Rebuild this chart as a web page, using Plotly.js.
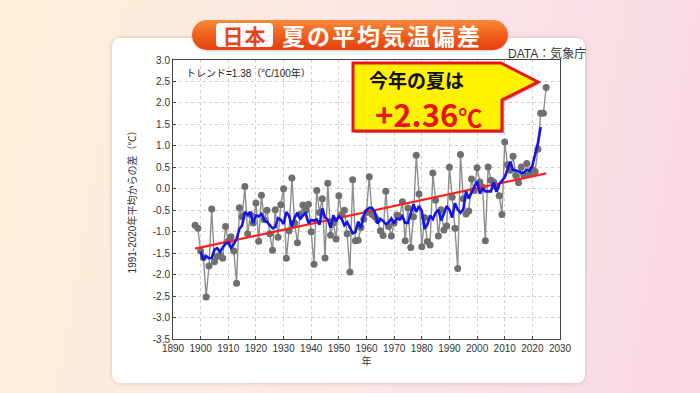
<!DOCTYPE html>
<html>
<head>
<meta charset="utf-8">
<script src="https://cdn.plot.ly/plotly-3.0.1.min.js"></script>
<style>
  html, body { margin:0; padding:0; }
  body { width:700px; height:393px; overflow:hidden; position:relative;
    background: linear-gradient(100deg, #fcefd6 0%, #fde8e4 40%, #fbe0e6 70%, #f9d6e0 100%);
    font-family: "Noto Sans CJK JP", "Liberation Sans", sans-serif; }
  #panel { position:absolute; left:112px; top:38px; width:473px; height:345px; background:#fff;
    border-radius:8px; box-shadow:0 0 4px rgba(0,0,0,0.18); }
  #chart { position:absolute; left:0; top:0; width:700px; height:393px; }
  #banner { position:absolute; left:192px; top:20px; width:316px; height:30px; border-radius:15px;
    background: linear-gradient(180deg, #f98a3a 0%, #f0601c 50%, #e6400e 100%);
    box-shadow: 0 1px 2px rgba(0,0,0,0.2); }
  #nihon { position:absolute; left:24px; top:3px; width:57px; height:24px; background:#fff; border-radius:4px;
    color:#e8431a; font-weight:bold; font-size:21px; line-height:24px; text-align:center; letter-spacing:1px; }
  #btitle { position:absolute; left:90px; top:0px; height:30px; color:#fff; font-weight:bold; font-size:23px;
    line-height:30px; letter-spacing:2px; white-space:nowrap; }
  #data { position:absolute; left:508px; top:44px; font-size:12px; color:#333; white-space:nowrap;
    font-family:"Liberation Sans","Noto Sans CJK JP",sans-serif; }
</style>
</head>
<body>
<div id="panel"></div>
<div id="chart"></div>
<div id="banner"><div id="nihon">日本</div><div id="btitle">夏の平均気温偏差</div></div>
<div id="data">DATA：気象庁</div>
<script>
// ---- data ----
const startYear = 1898;
const anomaly = [
  -0.85, -0.92,
  -1.45, -1.60, -2.52, -1.80, -0.47, -1.70, -1.58, -1.55, -1.62, -0.88,
  -1.22, -1.12, -1.45, -2.20, -0.44, -0.65, 0.05, -1.05, -0.60, -0.80,
  -0.33, -1.22, -0.15, -0.72, -0.50, -1.05, -1.43, -0.49, -1.13, -0.37,
  0.00, -1.62, -0.98, 0.25, -0.80, -1.26, -0.60, -0.38, -0.50, -0.36,
  -1.00, -1.76, -0.04, -0.55, -0.23, -1.61, 0.13, -1.08, -0.80, -1.17,
  -0.16, -0.60, -0.50, -1.05, -1.94, 0.21, -1.21, -1.20, -0.90, -0.71,
  -0.55, 0.28, -0.60, -0.65, -0.73, -0.98, -1.09, -0.06, -0.88, -1.10,
  -0.80, -0.61, -0.65, -0.30, -1.21, -0.45, -1.37, -0.65, 0.78, -0.12,
  -1.35, -0.67, -1.23, -1.31, 0.37, -0.27, -1.10, -0.49, -0.96, -0.87,
  0.50, -0.20, -0.92, -1.86, 0.80, -0.23, -0.59, -0.52, 0.23, -0.04,
  0.49, 0.16, 0.04, -1.21, 0.51, 0.20, 0.16, 0.04, -0.16, -0.60,
  1.09, 0.56, 0.43, 0.76, 0.31, 0.14, 0.51, 0.31, 0.59, 0.34,
  0.45, 0.40, 0.92, 1.76, 1.76, 2.36
];
const trendPer100 = 1.38;
const xTicks = [1890,1900,1910,1920,1930,1940,1950,1960,1970,1980,1990,2000,2010,2020,2030];
const yTicks = [3.0,2.5,2.0,1.5,1.0,0.5,0.0,-0.5,-1.0,-1.5,-2.0,-2.5,-3.0,-3.5];
const trendLabel = "トレンド=1.38（℃/100年）";
const calloutLine1 = "今年の夏は";
const calloutValue = "+2.36";

// ---- derived ----
const years = anomaly.map((_, i) => startYear + i);
const runYears = [], runMean = [];
for (let i = 2; i < anomaly.length - 2; i++) {
  let s = 0; for (let k = -2; k <= 2; k++) s += anomaly[i + k];
  runYears.push(years[i]); runMean.push(s / 5);
}
const meanX = years.reduce((a, b) => a + b, 0) / years.length;
const meanY = anomaly.reduce((a, b) => a + b, 0) / anomaly.length;
const slope = trendPer100 / 100;
const trendX = [years[0], years[years.length - 1]];
const trendY = trendX.map(x => meanY + slope * (x - meanX));

// plot area in pixels
const L = 173, R = 560, T = 60, B = 339;
const px = x => (x - L) / (R - L);
const py = y => (B - y) / (B - T);

const baseFont = "Liberation Sans, Arial, Noto Sans CJK JP, sans-serif";

const traces = [
  { x: years, y: anomaly, type: 'scatter', mode: 'lines+markers',
    line: { color: '#8e8e8e', width: 1.4 },
    marker: { color: '#6f6f6f', size: 7 }, hoverinfo: 'skip' },
  { x: trendX, y: trendY, type: 'scatter', mode: 'lines',
    line: { color: '#ff2020', width: 2.2 }, hoverinfo: 'skip' },
  { x: runYears, y: runMean, type: 'scatter', mode: 'lines',
    line: { color: '#1414e6', width: 2.6 }, hoverinfo: 'skip' }
];

function calloutPath(dx, dy) {
  const P = (x, y) => px(x + dx) + ' ' + py(y + dy);
  return 'M ' + P(353, 63) + ' L ' + P(501, 63) + ' L ' + P(538, 82) + ' L ' + P(502, 100) +
         ' L ' + P(502, 131) + ' L ' + P(353, 131) + ' Z';
}

const layout = {
  width: 700, height: 393,
  margin: { l: L, r: 700 - R, t: T, b: 393 - B, pad: 0 },
  paper_bgcolor: 'rgba(0,0,0,0)', plot_bgcolor: 'rgba(0,0,0,0)',
  showlegend: false,
  font: { family: baseFont, size: 10, color: '#333' },
  xaxis: {
    range: [1890, 2030], tickvals: xTicks, ticktext: xTicks.map(String),
    showgrid: true, gridcolor: '#d0d0d0', griddash: 'dot', gridwidth: 1,
    zeroline: false, showline: true, mirror: true, linecolor: '#444', linewidth: 1,
    ticks: 'inside', ticklen: 3, tickcolor: '#444',
    tickfont: { size: 10, color: '#333', family: baseFont },
    title: { text: '年', font: { size: 10, color: '#333', family: baseFont }, standoff: 4 }
  },
  yaxis: {
    range: [-3.5, 3.0], tickvals: yTicks, ticktext: yTicks.map(v => v.toFixed(1)),
    showgrid: true, gridcolor: '#d0d0d0', griddash: 'dot', gridwidth: 1,
    zeroline: false, showline: true, mirror: true, linecolor: '#444', linewidth: 1,
    ticks: 'inside', ticklen: 3, tickcolor: '#444',
    tickfont: { size: 10, color: '#333', family: baseFont },
    title: { text: '1991-2020年平均からの差（℃）', font: { size: 10, color: '#333', family: baseFont }, standoff: 14 }
  },
  shapes: [
    { type: 'path', xref: 'paper', yref: 'paper', path: calloutPath(2, 2),
      fillcolor: 'rgba(120,20,10,0.35)', line: { width: 0 }, layer: 'above' },
    { type: 'path', xref: 'paper', yref: 'paper', path: calloutPath(0, 0),
      fillcolor: '#fff200', line: { color: '#e8141c', width: 3 }, layer: 'above' }
  ],
  annotations: [
    { xref: 'paper', yref: 'paper', x: px(184), y: py(73), xanchor: 'left', yanchor: 'middle',
      text: trendLabel, showarrow: false, font: { size: 10, color: '#222', family: baseFont } },
    { xref: 'paper', yref: 'paper', x: px(416), y: py(79), xanchor: 'center', yanchor: 'middle',
      text: '<b>' + calloutLine1 + '</b>', showarrow: false,
      font: { size: 19, color: '#111', family: 'Noto Sans CJK JP, sans-serif' } },
    { xref: 'paper', yref: 'paper', x: px(428), y: py(113), xanchor: 'center', yanchor: 'middle',
      text: '<b>' + calloutValue + '<span style="font-size:24px">℃</span></b>', showarrow: false,
      font: { size: 31, color: '#e8141c', family: 'Noto Sans CJK JP, sans-serif' } }
  ]
};

Plotly.newPlot('chart', traces, layout, { staticPlot: true, displayModeBar: false });
</script>
</body>
</html>
